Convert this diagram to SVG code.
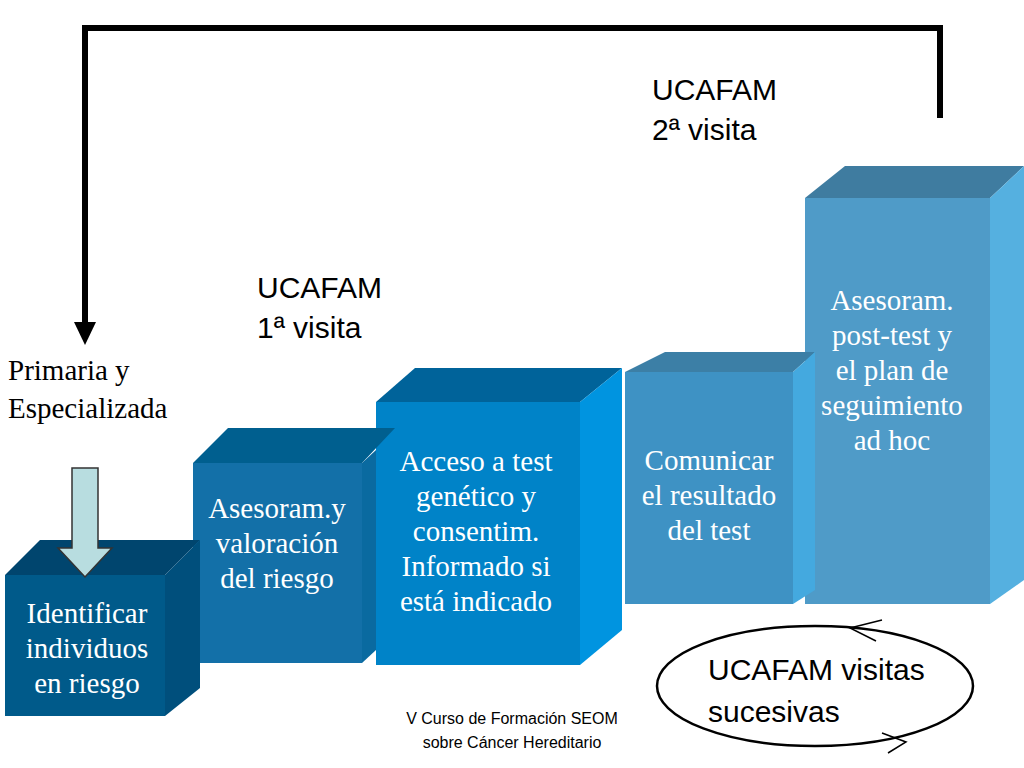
<svg xmlns="http://www.w3.org/2000/svg" width="1024" height="768" viewBox="0 0 1024 768">
<style>
.t{font-family:"Liberation Serif",serif;font-size:29px;fill:#fff;text-anchor:middle}
.s{font-family:"Liberation Sans",sans-serif;font-size:30px;fill:#000}
.b{font-family:"Liberation Serif",serif;font-size:29px;fill:#000}
.f{font-family:"Liberation Sans",sans-serif;font-size:16px;fill:#000;text-anchor:middle}
</style>
<rect width="1024" height="768" fill="#fff"/>
<g id="connectors">
<polyline points="85,330 85,28 940,28 940,118" fill="none" stroke="#000" stroke-width="6"/>
<polygon points="74,322 96,322 85,345" fill="#000"/>
<ellipse cx="815" cy="686" rx="158" ry="60" fill="none" stroke="#000" stroke-width="2.5"/>
<polyline points="882,620 850,628 876,641" fill="none" stroke="#000" stroke-width="1.5"/>
<polyline points="882,733 906,742 888,753" fill="none" stroke="#000" stroke-width="1.5"/>
</g>
<g id="n5">
<polygon points="805,198 845,166 1024,166 990,198" fill="#3f7ca0"/>
<polygon points="990,198 1024,166 1024,580 990,604" fill="#55b0e0"/>
<rect x="805" y="198" width="185" height="406" fill="#4f9bc8"/>
<text class="t"><tspan x="892" y="310">Asesoram.</tspan><tspan x="892" y="345">post-test y</tspan><tspan x="892" y="380">el plan de</tspan><tspan x="892" y="415">seguimiento</tspan><tspan x="892" y="450">ad hoc</tspan></text>
</g>
<g id="n4">
<polygon points="625,372 665,352 815,352 793,372" fill="#3c7fa6"/>
<polygon points="793,372 815,352 815,590 793,604" fill="#44a9df"/>
<rect x="625" y="372" width="168" height="232" fill="#3e92c4"/>
<text class="t"><tspan x="709" y="470">Comunicar</tspan><tspan x="709" y="505">el resultado</tspan><tspan x="709" y="540">del test</tspan></text>
</g>
<g id="n3">
<polygon points="376,402 415,368 622,368 580,402" fill="#00639a"/>
<polygon points="580,402 622,368 622,630 580,665" fill="#0094e0"/>
<rect x="376" y="402" width="204" height="263" fill="#0083c8"/>
<text class="t"><tspan x="476" y="471">Acceso a test</tspan><tspan x="476" y="506">genético y</tspan><tspan x="476" y="541">consentim.</tspan><tspan x="476" y="576">Informado si</tspan><tspan x="476" y="611">está indicado</tspan></text>
</g>
<g id="n2">
<polygon points="193,463 228,428 395,428 362,463" fill="#005f8f"/>
<polygon points="362,463 376,450 376,650 362,663" fill="#0a6aa0"/>
<rect x="193" y="463" width="169" height="200" fill="#1370a8"/>
<text class="t"><tspan x="277" y="518">Asesoram.y</tspan><tspan x="277" y="553">valoración</tspan><tspan x="277" y="588">del riesgo</tspan></text>
</g>
<g id="n1">
<polygon points="5,575 40,540 200,540 165,575" fill="#00456e"/>
<polygon points="165,575 200,540 200,688 165,716" fill="#004f7c"/>
<rect x="5" y="575" width="160" height="141" fill="#005a8a"/>
<text class="t"><tspan x="87" y="623">Identificar</tspan><tspan x="87" y="658">individuos</tspan><tspan x="87" y="693">en riesgo</tspan></text>
</g>
<g id="inarrow">
<polygon points="72,468 98,468 98,548 112,548 85,577 58,548 72,548" fill="#b8dde0" stroke="#333" stroke-width="1.5"/>
</g>
<g id="labels">
<text class="s"><tspan x="652" y="100">UCAFAM</tspan><tspan x="652" y="140">2ª visita</tspan></text>
<text class="s"><tspan x="257" y="298">UCAFAM</tspan><tspan x="257" y="338">1ª visita</tspan></text>
<text class="b"><tspan x="8" y="380">Primaria y</tspan><tspan x="8" y="418">Especializada</tspan></text>
<text class="s"><tspan x="708" y="680">UCAFAM visitas</tspan><tspan x="708" y="722">sucesivas</tspan></text>
<text class="f"><tspan x="512" y="724">V Curso de Formación SEOM</tspan><tspan x="512" y="748">sobre Cáncer Hereditario</tspan></text>
</g>
</svg>
